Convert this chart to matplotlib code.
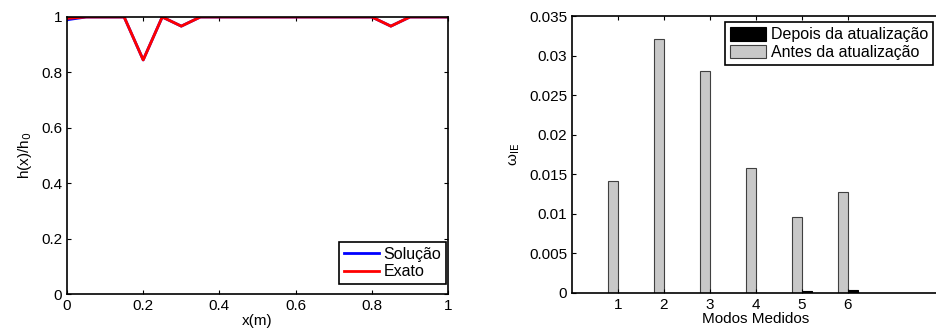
import numpy as np
import matplotlib
matplotlib.use('Agg')
import matplotlib.pyplot as plt

plt.rcParams['font.family'] = ['Liberation Sans', 'DejaVu Sans']
plt.rcParams['font.size'] = 11

# left panel: profile h(x)/h0
x_pos = [0.0, 0.05, 0.1, 0.15, 0.2, 0.25, 0.3, 0.35, 0.4, 0.45, 0.5,
         0.55, 0.6, 0.65, 0.7, 0.75, 0.8, 0.85, 0.9, 0.95, 1.0]
h_exato = [0.995, 1, 1, 1, 0.845, 1, 0.967, 1, 1, 1, 1,
           1, 1, 1, 1, 1, 1, 0.967, 1, 1, 1]
h_solucao = [0.99, 1, 1, 1, 0.845, 1, 0.967, 1, 1, 1, 1,
             1, 1, 1, 1, 1, 1, 0.967, 1, 1, 1]

# right panel: error indicator per measured mode
modos = [1, 2, 3, 4, 5, 6]
antes = [0.0142, 0.0321, 0.0281, 0.0158, 0.0096, 0.0127]
depois = [0.00001, 0.00001, 0.00001, 0.00005, 0.0002, 0.0004]

fig = plt.figure(figsize=(9.36, 3.32), dpi=100)

ax1 = fig.add_axes([67/936, 1 - 294/332, 381/936, 277/332])
ax1.plot(x_pos, h_solucao, color='#0000ff', lw=2, label='Solução')
ax1.plot(x_pos, h_exato, color='#ff0000', lw=2, label='Exato')
ax1.set_xlim(0, 1)
ax1.set_ylim(0, 1)
ax1.set_xticks(np.arange(0, 1.01, 0.2))
ax1.set_xticklabels(['0', '0.2', '0.4', '0.6', '0.8', '1'])
ax1.set_yticks(np.arange(0, 1.01, 0.2))
ax1.set_yticklabels(['0', '0.2', '0.4', '0.6', '0.8', '1'])
ax1.tick_params(direction='in', top=True, right=True, length=3, width=0.8)
ax1.set_xlabel('x(m)', labelpad=1)
ax1.set_ylabel('h(x)/h$_0$', labelpad=5)
leg1 = ax1.legend(loc='lower right', bbox_to_anchor=(446/936, 1 - 284/332),
                  bbox_transform=fig.transFigure, fancybox=False,
                  edgecolor='black', framealpha=1, fontsize=11.5,
                  handlelength=2.2, labelspacing=0.15, handletextpad=0.3,
                  borderpad=0.3, borderaxespad=0)
leg1.get_frame().set_linewidth(1.2)
for s in ax1.spines.values():
    s.set_linewidth(1.2)

ax2 = fig.add_axes([572/936, 1 - 293/332, 368/936, 277/332])
w = 0.22
xm = np.array(modos)
ax2.bar(xm + w/2, depois, width=w, color='black', edgecolor='black',
        lw=0.8, label='Depois da atualização')
ax2.bar(xm - w/2, antes, width=w, color='#c8c8c8', edgecolor='#404040',
        lw=0.8, label='Antes da atualização')
ax2.set_xlim(0, 8)
ax2.set_ylim(0, 0.035)
ax2.set_xticks(modos)
ax2.set_yticks(np.arange(0, 0.0351, 0.005))
ax2.set_yticklabels(['0', '0.005', '0.01', '0.015', '0.02', '0.025', '0.03', '0.035'])
ax2.tick_params(direction='in', top=True, right=False, length=3, width=0.8)
ax2.spines['right'].set_visible(False)
for s in ['left', 'top', 'bottom']:
    ax2.spines[s].set_linewidth(1.2)
ax2.set_xlabel('Modos Medidos', labelpad=0)
ax2.set_ylabel('ω$_{\\mathrm{IE}}$', labelpad=5)
leg2 = ax2.legend(loc='upper right', bbox_to_anchor=(933/936, 1 - 22/332),
                  bbox_transform=fig.transFigure, fancybox=False,
                  edgecolor='black', framealpha=1, fontsize=11.5,
                  handlelength=2.25, handleheight=0.95, labelspacing=0.15,
                  handletextpad=0.3, borderpad=0.3, borderaxespad=0)
leg2.get_frame().set_linewidth(1.2)

fig.savefig('out.png', dpi=100)
